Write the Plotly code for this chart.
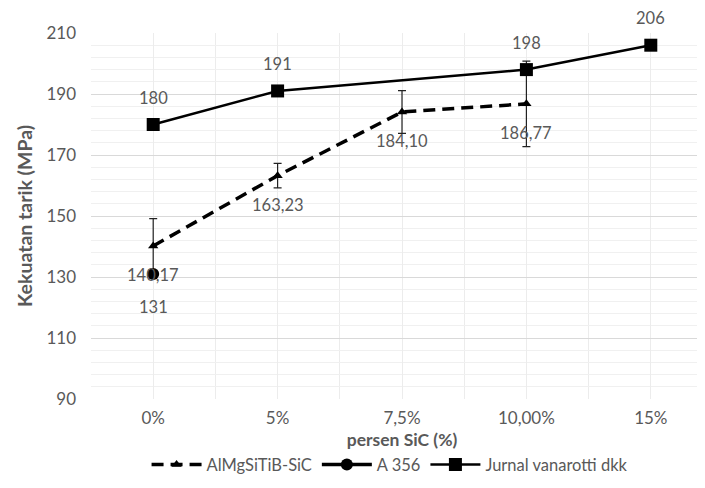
import plotly.graph_objects as go

categories = ["0%", "5%", "7,5%", "10,00%", "15%"]
almg_vals = [140.17, 163.23, 184.10, 186.77, None]
almg_err = [9, 4, 7, 14, 0]
a356_vals = [131, None, None, None, None]
jurnal_vals = [180, 191, None, 198, 206]
yticks = [90, 110, 130, 150, 170, 190, 210]

xs = list(range(len(categories)))
gray = "#595959"
FONT = "Lato"

fig = go.Figure()
fig.add_trace(go.Scatter(
    x=xs, y=almg_vals, name="AlMgSiTiB-SiC", mode="lines+markers",
    line=dict(color="black", width=3.5, dash="12px,7px"),
    marker=dict(symbol="triangle-up", size=9, color="black"),
    error_y=dict(type="data", array=almg_err, visible=True, color="#222222", thickness=1.2, width=4),
    connectgaps=True,
))
fig.add_trace(go.Scatter(
    x=xs, y=a356_vals, name="A 356", mode="lines+markers",
    line=dict(color="black", width=3.5),
    marker=dict(symbol="circle", size=12, color="black"),
))
fig.add_trace(go.Scatter(
    x=xs, y=jurnal_vals, name="Jurnal vanarotti dkk", mode="lines+markers",
    line=dict(color="black", width=2.5),
    marker=dict(symbol="square", size=13, color="black"),
    connectgaps=True,
))

anns = []
for i, v in enumerate(almg_vals):
    if v is not None:
        anns.append(dict(x=xs[i], y=v, text=f"{v:.2f}".replace(".", ","), yshift=-29))
for i, v in enumerate(a356_vals):
    if v is not None:
        anns.append(dict(x=xs[i], y=v, text=str(v), yshift=-33))
for i, v in enumerate(jurnal_vals):
    if v is not None:
        anns.append(dict(x=xs[i], y=v, text=str(v), yshift=27))
for a in anns:
    a.update(showarrow=False, font=dict(family=FONT, size=16.5, color=gray), xref="x", yref="y")

fig.update_layout(
    width=705, height=488,
    margin=dict(l=83, r=0, t=25, b=97),
    paper_bgcolor="white", plot_bgcolor="white",
    font=dict(family=FONT, size=16, color=gray),
    annotations=anns,
    showlegend=True,
    legend=dict(orientation="h", x=0.48, xanchor="center", y=-0.18, yanchor="middle",
                font=dict(family=FONT, size=16.5, color=gray), itemwidth=50, tracegroupgap=0),
    xaxis=dict(
        range=[-0.5, 4.5], tickmode="array", tickvals=xs, ticktext=categories,
        showgrid=True, gridcolor="#ececec", gridwidth=1, zeroline=False, showline=False,
        ticks="", tickfont=dict(size=17, color=gray), ticklabelstandoff=7,
        minor=dict(tickmode="linear", tick0=-0.5, dtick=1, showgrid=True, gridcolor="#ececec"),
        title=dict(text="<b>persen SiC (%)</b>", font=dict(size=17.5, color=gray), standoff=6),
    ),
    yaxis=dict(
        range=[90, 210], tickmode="array", tickvals=yticks,
        showgrid=True, gridcolor="#d9d9d9", gridwidth=1, zeroline=False, showline=False,
        ticks="", tickfont=dict(size=17, color=gray), ticklabelstandoff=14,
        minor=dict(tickmode="linear", tick0=90, dtick=4, showgrid=True, gridcolor="#f0f0f0"),
        title=dict(text="<b>Kekuatan tarik (MPa)</b>", font=dict(size=19.5, color=gray), standoff=8),
    ),
)

fig.write_html("out.html")
